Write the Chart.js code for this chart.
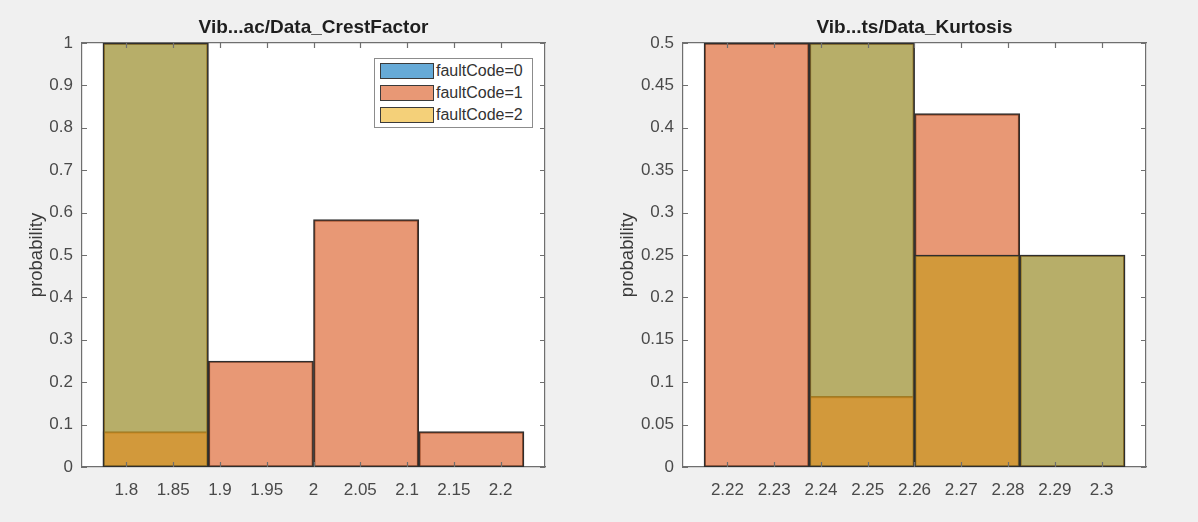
<!DOCTYPE html>
<html>
<head>
<meta charset="utf-8">
<script src="https://cdn.jsdelivr.net/npm/chart.js@4.4.1/dist/chart.umd.min.js"></script>
<style>
  html, body { margin: 0; padding: 0; background: #f0f0f0; }
  #wrap { position: relative; width: 1198px; height: 522px; overflow: hidden; }
  canvas { position: absolute; top: 0; }
  #legend {
    position: absolute; left: 374px; top: 58px; width: 157px; height: 68px;
    background: #fff; border: 1px solid #8c8c8c;
    font-family: "Liberation Sans", Arial, sans-serif; font-size: 16px; color: #333;
  }
  .row { position: absolute; left: 5px; height: 17px; display: flex; align-items: center; white-space: nowrap; }
  .sw { width: 52px; height: 14px; border: 1.5px solid #3a3a3a; margin-right: 2px; }
</style>
</head>
<body>
<div id="wrap">
  <canvas id="crest" width="599" height="522" style="left:0"></canvas>
  <canvas id="kurt" width="599" height="522" style="left:599px"></canvas>
  <div id="legend"></div>
</div>
<script>
const faultLabels = ["faultCode=0", "faultCode=1", "faultCode=2"];
const faultColors = ["rgba(0,114,189,0.6)", "rgba(217,83,25,0.6)", "rgba(237,177,32,0.6)"];

// CrestFactor histogram, bin centres (bin width 0.1)
const crestBins = [1.85, 1.95, 2.05, 2.15];
const crestFault0 = [1, 0, 0, 0];
const crestFault1 = [0.0833, 0.25, 0.5833, 0.0833];
const crestFault2 = [1, 0, 0, 0];

// Kurtosis histogram, bin centres (bin width 0.02)
const kurtBins = [2.23, 2.25, 2.27, 2.29];
const kurtFault0 = [0, 0.5, 0.25, 0.25];
const kurtFault1 = [0.5, 0.0833, 0.4167, 0];
const kurtFault2 = [0, 0.5, 0.25, 0.25];

// axis limits and tick steps
const crestX = [1.78, 2.22], crestXStep = 0.05, crestYMax = 1, crestYStep = 0.1;
const kurtX = [2.216, 2.304], kurtXStep = 0.01, kurtYMax = 0.5, kurtYStep = 0.05;

const axisColor = "#6f6f6f";
const textColor = "#4a4a4a";
const fontFamily = '"Liberation Sans", Arial, sans-serif';

// matlab style labels: 1, 0.5, 2.3 ...
const fmt = (v) => String(+v.toFixed(4));

const whiteArea = {
  id: "whiteArea",
  beforeDraw(chart) {
    const { ctx, chartArea: a } = chart;
    ctx.save();
    ctx.fillStyle = "#fff";
    ctx.fillRect(a.left, a.top, a.width, a.height);
    ctx.restore();
  },
};

// short tick marks pointing into the axes box
const inwardTicks = {
  id: "inwardTicks",
  afterDatasetsDraw(chart) {
    const { ctx, chartArea: a, scales } = chart;
    ctx.save();
    ctx.strokeStyle = axisColor;
    ctx.lineWidth = 1.2;
    ctx.beginPath();
    scales.xt.ticks.forEach((t) => {
      const px = Math.round(scales.xt.getPixelForValue(t.value)) + 0.5;
      ctx.moveTo(px, a.bottom); ctx.lineTo(px, a.bottom - 5);
      ctx.moveTo(px, a.top); ctx.lineTo(px, a.top + 5);
    });
    scales.y.ticks.forEach((t) => {
      const py = Math.round(scales.y.getPixelForValue(t.value)) + 0.5;
      ctx.moveTo(a.left, py); ctx.lineTo(a.left + 5, py);
      ctx.moveTo(a.right, py); ctx.lineTo(a.right - 5, py);
    });
    ctx.stroke();
    ctx.restore();
  },
};

const makeHist = (id, title, bins, series, xLim, xStep, yMax, yStep, box) => {
  const grid = { display: false, drawOnChartArea: false, drawTicks: false };
  const border = { color: axisColor, width: 1.2 };
  return new Chart(document.getElementById(id), {
    type: "bar",
    data: {
      datasets: series.map((vals, i) => ({
        label: faultLabels[i],
        data: bins.map((b, j) => ({ x: b, y: vals[j] || null })),
        backgroundColor: faultColors[i],
        borderColor: "#2e2e2e",
        borderWidth: 1.5,
        borderSkipped: false,
        barPercentage: 1,
        categoryPercentage: 1,
        grouped: false,
        order: series.length - i,
        xAxisID: "x",
        yAxisID: "y",
      })),
    },
    options: {
      responsive: false,
      animation: false,
      layout: { padding: { left: 0, right: 599 - box.right, top: 0, bottom: 0 } },
      plugins: { legend: { display: false }, tooltip: { enabled: false } },
      scales: {
        x: {
          type: "linear", display: false, min: xLim[0], max: xLim[1],
          afterBuildTicks: (s) => { s.ticks = []; },
        },
        xt: {
          type: "linear", position: "bottom", min: xLim[0], max: xLim[1], z: 1,
          ticks: { stepSize: xStep, includeBounds: false, maxTicksLimit: 20, padding: 13, color: textColor, font: { family: fontFamily, size: 17 }, callback: fmt },
          grid, border,
          afterFit: (s) => { s.height = 522 - box.bottom; },
        },
        xTop: {
          type: "linear", position: "top", min: xLim[0], max: xLim[1], z: 1,
          ticks: { display: false, stepSize: xStep, includeBounds: false, maxTicksLimit: 20 },
          grid, border,
          title: { display: true, text: title, color: "#1e1e1e", font: { family: fontFamily, size: 19, weight: "bold" }, padding: { top: 16.5, bottom: 0 } },
          afterFit: (s) => { s.height = box.top; },
        },
        y: {
          type: "linear", position: "left", min: 0, max: yMax, z: 1,
          ticks: { stepSize: yStep, padding: 9, color: textColor, font: { family: fontFamily, size: 17 }, callback: fmt },
          grid, border,
          title: { display: true, text: "probability", color: "#3a3a3a", font: { family: fontFamily, size: 18.5 }, padding: { top: box.labelX - 11.1, bottom: 0 } },
          afterFit: (s) => { s.width = box.left; },
        },
        yR: {
          type: "linear", position: "right", min: 0, max: yMax, z: 1,
          ticks: { display: false, stepSize: yStep },
          grid, border,
          afterFit: (s) => { s.width = 0; },
        },
      },
    },
    plugins: [whiteArea, inwardTicks],
  });
};

makeHist("crest", "Vib...ac/Data_CrestFactor", crestBins,
  [crestFault0, crestFault1, crestFault2], crestX, crestXStep, crestYMax, crestYStep,
  { left: 82, right: 545, top: 43, bottom: 467, labelX: 37 });

makeHist("kurt", "Vib...ts/Data_Kurtosis", kurtBins,
  [kurtFault0, kurtFault1, kurtFault2], kurtX, kurtXStep, kurtYMax, kurtYStep,
  { left: 84, right: 547, top: 43, bottom: 467, labelX: 29 });

// legend box inside the left axes
const legend = document.getElementById("legend");
faultLabels.forEach((lab, i) => {
  const row = document.createElement("div");
  row.className = "row";
  row.style.top = (3 + i * 22) + "px";
  const sw = document.createElement("div");
  sw.className = "sw";
  sw.style.background = faultColors[i];
  const txt = document.createElement("span");
  txt.textContent = lab;
  row.appendChild(sw);
  row.appendChild(txt);
  legend.appendChild(row);
});
</script>
</body>
</html>
